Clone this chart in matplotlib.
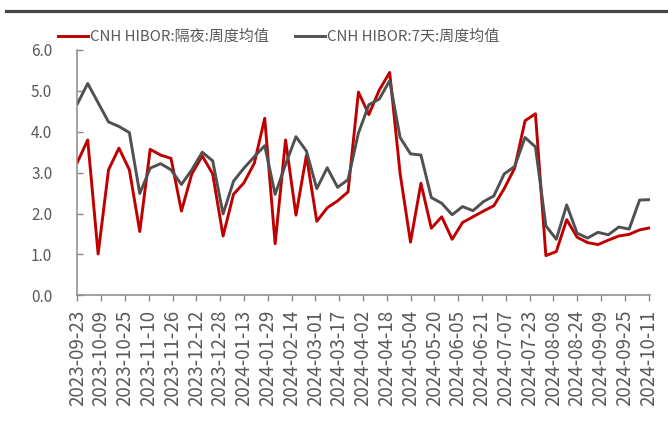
import matplotlib
matplotlib.use('Agg')
import matplotlib.pyplot as plt
import matplotlib.dates as mdates
from matplotlib.lines import Line2D
import pandas as pd

# weekly averages, CNH HIBOR (%)
dates = pd.date_range('2023-09-23', periods=56, freq='7D')

overnight = [3.25, 3.80, 1.01, 3.07, 3.60, 3.07, 1.56, 3.57, 3.43, 3.35,
             2.06, 2.97, 3.41, 2.97, 1.45, 2.47, 2.75, 3.23, 4.33, 1.26,
             3.80, 1.96, 3.42, 1.81, 2.14, 2.31, 2.53, 4.97, 4.42, 5.02,
             5.45, 2.98, 1.30, 2.74, 1.64, 1.92, 1.37, 1.78, 1.92, 2.06,
             2.19, 2.61, 3.11, 4.27, 4.44, 0.97, 1.07, 1.85, 1.42, 1.29,
             1.24, 1.35, 1.45, 1.49, 1.60, 1.65]

seven_day = [4.68, 5.18, 4.71, 4.24, 4.13, 3.98, 2.49, 3.11, 3.22, 3.07,
             2.71, 3.07, 3.50, 3.29, 1.99, 2.79, 3.11, 3.39, 3.66, 2.47,
             3.20, 3.88, 3.53, 2.61, 3.12, 2.64, 2.83, 3.97, 4.66, 4.80,
             5.25, 3.86, 3.46, 3.43, 2.39, 2.25, 1.97, 2.17, 2.07, 2.29,
             2.43, 2.97, 3.15, 3.86, 3.63, 1.70, 1.37, 2.21, 1.52, 1.40,
             1.54, 1.48, 1.67, 1.62, 2.33, 2.34]

tick_labels = ['2023-09-23', '2023-10-09', '2023-10-25', '2023-11-10', '2023-11-26',
               '2023-12-12', '2023-12-28', '2024-01-13', '2024-01-29', '2024-02-14',
               '2024-03-01', '2024-03-17', '2024-04-02', '2024-04-18', '2024-05-04',
               '2024-05-20', '2024-06-05', '2024-06-21', '2024-07-07', '2024-07-23',
               '2024-08-08', '2024-08-24', '2024-09-09', '2024-09-25', '2024-10-11']
y_ticks = [0.0, 1.0, 2.0, 3.0, 4.0, 5.0, 6.0]

labels = ['CNH HIBOR:隔夜:周度均值', 'CNH HIBOR:7天:周度均值']

plt.rcParams['font.family'] = ['Noto Sans CJK SC', 'DejaVu Sans']
text_color = '#595959'
spine_color = '#898989'

fig = plt.figure(figsize=(6.68, 4.24), dpi=100)
ax = fig.add_axes([77.3 / 668, 1 - 295.3 / 424, (650 - 77.3) / 668, (295.3 - 50) / 424])

ax.plot(dates, overnight, color='#C00000', linewidth=2.1, label=labels[0])
ax.plot(dates, seven_day, color='#505050', linewidth=2.1, label=labels[1])

# axis limits and ticks
ax.set_xlim(dates[0], dates[-1])
ax.set_ylim(0, 6)
ax.set_yticks(y_ticks)
ax.set_yticklabels([f'{v:.1f}' for v in y_ticks])
tick_dates = pd.to_datetime(tick_labels)
ax.set_xticks(tick_dates)
ax.set_xticklabels(tick_labels, rotation=90, fontsize=13.5, color=text_color)

ax.tick_params(axis='y', direction='in', length=4.3, width=1, color=spine_color,
               labelsize=11, labelcolor=text_color, pad=18)
ax.tick_params(axis='x', direction='out', length=4.3, width=1, color=spine_color, pad=6)

for side in ['top', 'right']:
    ax.spines[side].set_visible(False)
for side in ['left', 'bottom']:
    ax.spines[side].set_color(spine_color)
    ax.spines[side].set_linewidth(1.1)

# legend across the top
fig.legend(loc='center left', bbox_to_anchor=(58 / 668, 1 - 37 / 424), ncol=2,
           frameon=False, fontsize=10.8, labelcolor=text_color, borderpad=0,
           borderaxespad=0, handlelength=2.0, handletextpad=0.15, columnspacing=1.7)

# dark rule at the very top
fig.add_artist(Line2D([6 / 668, 1], [1 - 10.5 / 424, 1 - 10.5 / 424],
                      transform=fig.transFigure, color='#474747', linewidth=2.3))

fig.savefig('out.png', dpi=100)
